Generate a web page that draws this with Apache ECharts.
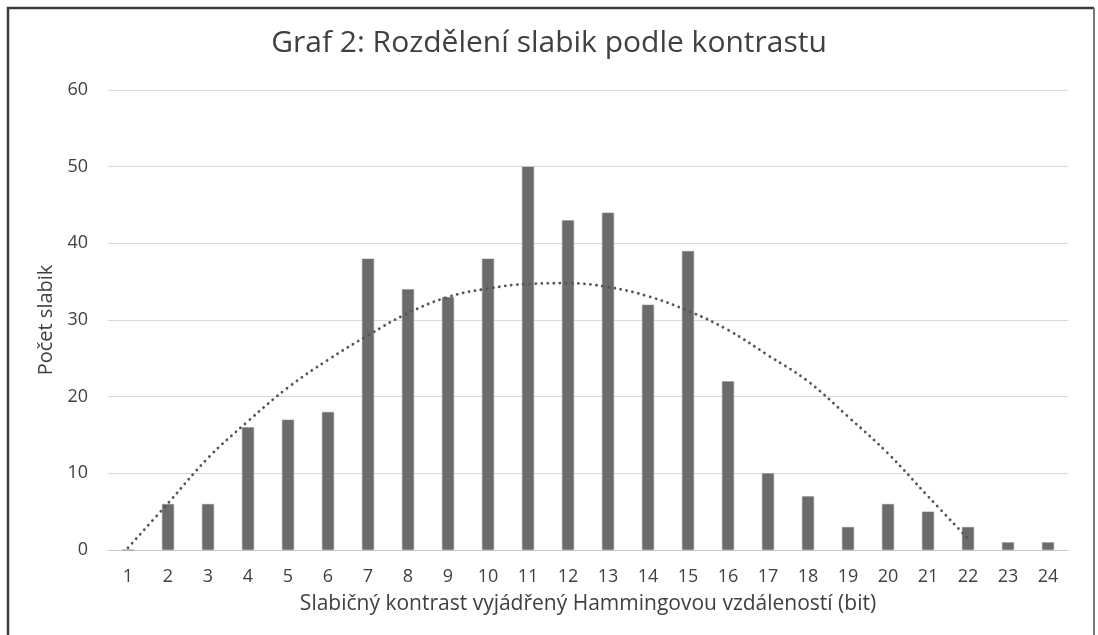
<!DOCTYPE html>
<html>
<head>
<meta charset="utf-8">
<script src="https://cdn.jsdelivr.net/npm/echarts@6/dist/echarts.min.js"></script>
<style>
  html, body { margin: 0; padding: 0; background: #fff; }
  #chart { width: 1098px; height: 635px; }
</style>
</head>
<body>
<div id="chart"></div>
<script>
// kontrast (bit)
const categories = ['1', '2', '3', '4', '5', '6', '7', '8', '9', '10', '11', '12',
  '13', '14', '15', '16', '17', '18', '19', '20', '21', '22', '23', '24'];
// počet slabik
const counts = [0, 6, 6, 16, 17, 18, 38, 34, 33, 38, 50, 43, 44, 32, 39, 22, 10, 7, 3, 6, 5, 3, 1, 1];
// spojnice trendu
const trend = [0.3, 6.1, 12.0, 16.8, 21.2, 24.8, 28.0, 30.9, 33.0, 34.1, 34.7, 34.8,
  34.3, 33.1, 31.2, 28.7, 25.4, 22.0, 17.4, 12.6, 7.0, 1.5, null, null];

const chart = echarts.init(document.getElementById('chart'));

const option = {
  animation: false,
  textStyle: { fontFamily: 'Open Sans' },
  title: {
    text: 'Graf 2: Rozdělení slabik podle kontrastu',
    left: 'center',
    top: 23,
    textStyle: { fontSize: 30, fontWeight: 'normal', color: '#404040', fontFamily: 'Open Sans' }
  },
  grid: { left: 108, right: 30, top: 90, bottom: 85 },
  xAxis: {
    type: 'category',
    data: categories,
    name: 'Slabičný kontrast vyjádřený Hammingovou vzdáleností (bit)',
    nameLocation: 'middle',
    nameGap: 44,
    nameTextStyle: { fontSize: 21, color: '#404040' },
    axisLine: { lineStyle: { color: '#c8c8c8', width: 1 } },
    axisTick: { show: false },
    axisLabel: { fontSize: 18, color: '#404040', margin: 18 }
  },
  yAxis: {
    type: 'value',
    min: 0,
    max: 60,
    interval: 10,
    name: 'Počet slabik',
    nameLocation: 'middle',
    nameGap: 50,
    nameTextStyle: { fontSize: 20, color: '#404040' },
    axisLine: { show: false },
    axisTick: { show: false },
    axisLabel: { fontSize: 18, color: '#404040', margin: 20 },
    splitLine: { lineStyle: { color: '#d9d9d9', width: 1 } }
  },
  series: [
    {
      type: 'bar',
      data: counts,
      barWidth: 12,
      itemStyle: { color: '#6b6b6b', borderColor: '#8a8a8a', borderWidth: 0.5 }
    },
    {
      type: 'line',
      data: trend,
      smooth: 0.4,
      symbol: 'none',
      z: 5,
      lineStyle: { color: '#555', width: 2.8, type: [0.1, 6], cap: 'round' }
    }
  ],
  graphic: [
    {
      type: 'polyline',
      shape: { points: [[8, 635], [8, 8], [1094, 8]] },
      style: { stroke: '#3c3c3c', lineWidth: 2.5, fill: null }
    },
    {
      type: 'polyline',
      shape: { points: [[1094, 8], [1094, 635]] },
      style: { stroke: '#777', lineWidth: 2, fill: null }
    }
  ]
};

chart.setOption(option);
</script>
</body>
</html>
